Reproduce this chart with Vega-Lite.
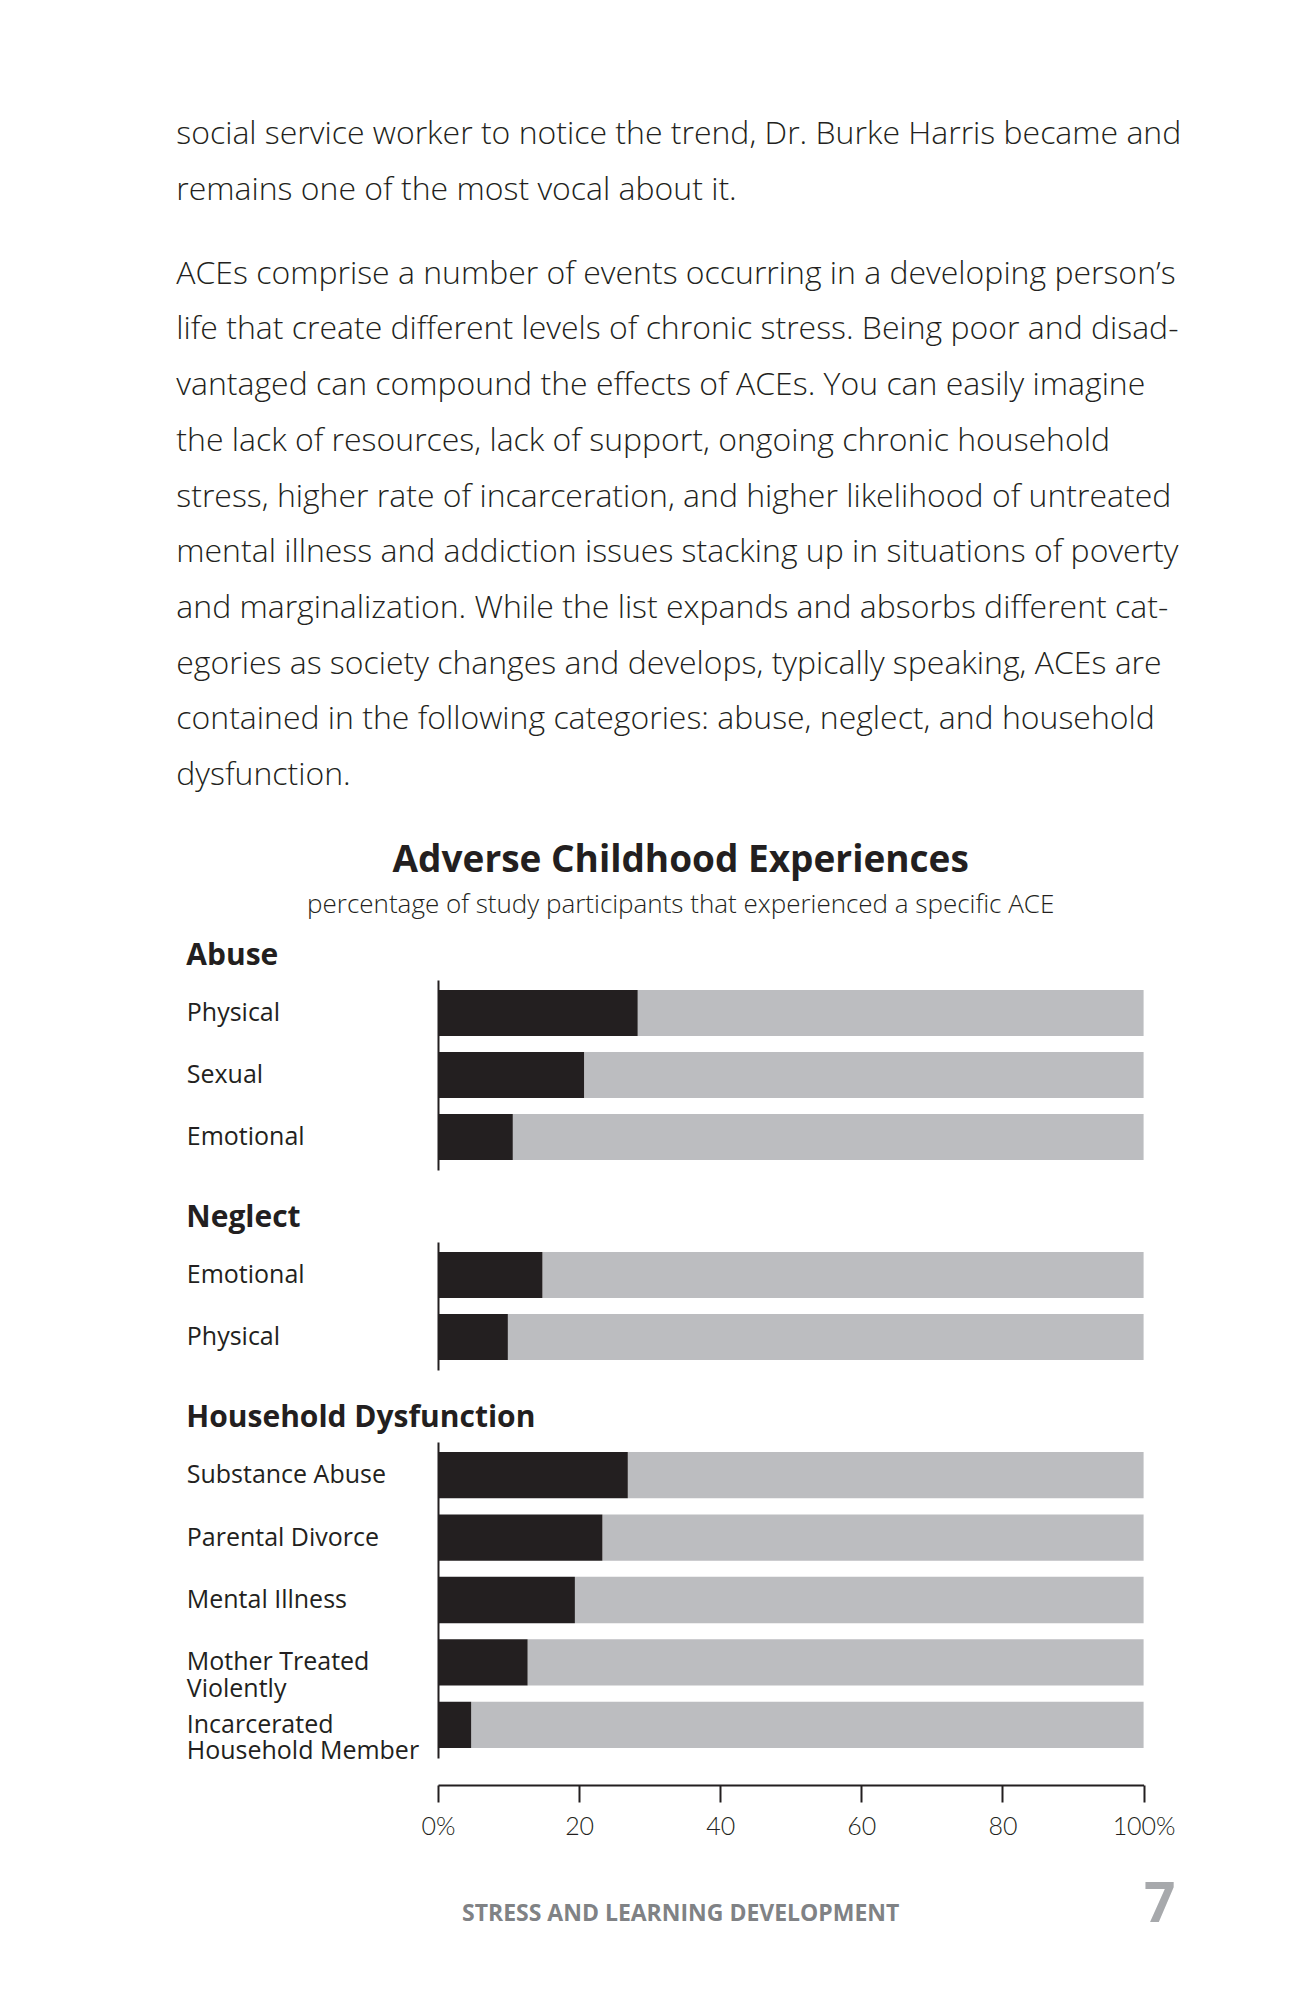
{
  "$schema": "https://vega.github.io/schema/vega-lite/v6.json",
  "background": "white",
  "padding": {"left": 176, "top": 117, "right": 20, "bottom": 20},
  "data": {
    "values": [
      {"group": "Abuse", "item": "Physical", "pct": 28.3},
      {"group": "Abuse", "item": "Sexual", "pct": 20.7},
      {"group": "Abuse", "item": "Emotional", "pct": 10.6},
      {"group": "Neglect", "item": "Emotional", "pct": 14.8},
      {"group": "Neglect", "item": "Physical", "pct": 9.9},
      {"group": "Household Dysfunction", "item": "Substance Abuse", "pct": 26.9},
      {"group": "Household Dysfunction", "item": "Parental Divorce", "pct": 23.3},
      {"group": "Household Dysfunction", "item": "Mental Illness", "pct": 19.4},
      {"group": "Household Dysfunction", "item": "Mother Treated Violently", "pct": 12.7},
      {"group": "Household Dysfunction", "item": "Incarcerated Household Member", "pct": 4.7}
    ]
  },
  "title": {
    "text": [
      "social service worker to notice the trend, Dr. Burke Harris became and",
      "remains one of the most vocal about it."
    ],
    "subtitle": [
      "ACEs comprise a number of events occurring in a developing person’s",
      "life that create different levels of chronic stress. Being poor and disad-",
      "vantaged can compound the effects of ACEs. You can easily imagine",
      "the lack of resources, lack of support, ongoing chronic household",
      "stress, higher rate of incarceration, and higher likelihood of untreated",
      "mental illness and addiction issues stacking up in situations of poverty",
      "and marginalization. While the list expands and absorbs different cat-",
      "egories as society changes and develops, typically speaking, ACEs are",
      "contained in the following categories: abuse, neglect, and household",
      "dysfunction."
    ],
    "anchor": "start",
    "frame": "bounds",
    "dx": -10,
    "font": "Open Sans",
    "fontSize": 32,
    "fontWeight": 300,
    "color": "#231f20",
    "lineHeight": 56,
    "subtitleFont": "Open Sans",
    "subtitleFontSize": 32,
    "subtitleFontWeight": 300,
    "subtitleColor": "#231f20",
    "subtitleLineHeight": 55.7,
    "subtitlePadding": 52,
    "offset": 50
  },
  "vconcat": [
    {
      "title": {
        "text": "STRESS AND LEARNING DEVELOPMENT",
        "orient": "bottom",
        "anchor": "middle",
        "frame": "bounds",
        "font": "Open Sans",
        "fontSize": 23,
        "fontWeight": "bold",
        "color": "#808285",
        "offset": -30
      },
      "vconcat": [
        {
          "title": {
            "text": "Adverse Childhood Experiences",
            "subtitle": "percentage of study participants that experienced a specific ACE",
            "anchor": "middle",
            "frame": "bounds",
            "font": "Open Sans",
            "fontSize": 37,
            "fontWeight": "bold",
            "color": "#231f20",
            "subtitleFont": "Open Sans",
            "subtitleFontSize": 26,
            "subtitleFontWeight": 300,
            "subtitleColor": "#231f20",
            "subtitlePadding": 12,
            "offset": 22
          },
          "bounds": "flush",
          "spacing": 72,
          "vconcat": [
            {
              "title": {"text": "Abuse", "anchor": "start", "frame": "bounds", "font": "Open Sans", "fontSize": 30, "fontWeight": "bold", "color": "#231f20", "offset": 9},
              "width": 705.6,
              "height": 190,
              "transform": [{"filter": "datum.group == 'Abuse'"}],
              "encoding": {
                "y": {
                  "field": "item", "type": "nominal", "sort": null,
                  "scale": {"paddingInner": 0.258, "paddingOuter": 0.161},
                  "axis": {"title": null, "ticks": false, "domain": true, "domainColor": "#231f20", "domainWidth": 2, "labelAlign": "left", "labelPadding": 251.7, "labelBaseline": "alphabetic", "labelOffset": 8, "labelFont": "Open Sans", "labelFontSize": 25, "labelColor": "#231f20", "labelLimit": 400, "labelLineHeight": 26.5}
                }
              },
              "layer": [
                {"mark": {"type": "bar", "color": "#bcbdc0"}, "encoding": {"x": {"field": "pct", "type": "quantitative", "scale": {"domain": [0, 100], "nice": false}, "axis": null}, "x2": {"datum": 100}}},
                {"mark": {"type": "bar", "color": "#231f20"}, "encoding": {"x": {"field": "pct", "type": "quantitative", "stack": null}}}
              ]
            },
            {
              "title": {"text": "Neglect", "anchor": "start", "frame": "bounds", "font": "Open Sans", "fontSize": 30, "fontWeight": "bold", "color": "#231f20", "offset": 9},
              "width": 705.6,
              "height": 128,
              "transform": [{"filter": "datum.group == 'Neglect'"}],
              "encoding": {
                "y": {
                  "field": "item", "type": "nominal", "sort": null,
                  "scale": {"paddingInner": 0.258, "paddingOuter": 0.161},
                  "axis": {"title": null, "ticks": false, "domain": true, "domainColor": "#231f20", "domainWidth": 2, "labelAlign": "left", "labelPadding": 251.7, "labelBaseline": "alphabetic", "labelOffset": 8, "labelFont": "Open Sans", "labelFontSize": 25, "labelColor": "#231f20", "labelLimit": 400, "labelLineHeight": 26.5}
                }
              },
              "layer": [
                {"mark": {"type": "bar", "color": "#bcbdc0"}, "encoding": {"x": {"field": "pct", "type": "quantitative", "scale": {"domain": [0, 100], "nice": false}, "axis": null}, "x2": {"datum": 100}}},
                {"mark": {"type": "bar", "color": "#231f20"}, "encoding": {"x": {"field": "pct", "type": "quantitative", "stack": null}}}
              ]
            },
            {
              "title": {"text": "Household Dysfunction", "anchor": "start", "frame": "bounds", "font": "Open Sans", "fontSize": 30, "fontWeight": "bold", "color": "#231f20", "offset": 9},
              "width": 705.6,
              "height": 316,
              "transform": [{"filter": "datum.group == 'Household Dysfunction'"}],
              "encoding": {
                "y": {
                  "field": "item", "type": "nominal", "sort": null,
                  "scale": {"paddingInner": 0.258, "paddingOuter": 0.161},
                  "axis": {"title": null, "ticks": false, "domain": true, "domainColor": "#231f20", "domainWidth": 2, "labelAlign": "left", "labelPadding": 251.7, "labelBaseline": "alphabetic", "labelOffset": 8, "labelFont": "Open Sans", "labelFontSize": 25, "labelColor": "#231f20", "labelLimit": 400, "labelLineHeight": 26.5,
                    "labelExpr": "datum.label == 'Mother Treated Violently' ? ['Mother Treated', 'Violently'] : datum.label == 'Incarcerated Household Member' ? ['Incarcerated', 'Household Member'] : datum.label"}
                }
              },
              "layer": [
                {"mark": {"type": "bar", "color": "#bcbdc0"}, "encoding": {"x": {"field": "pct", "type": "quantitative", "scale": {"domain": [0, 100], "nice": false},
                  "axis": {"values": [0, 20, 40, 60, 80, 100], "labelExpr": "datum.value == 0 || datum.value == 100 ? datum.value + '%' : datum.label", "offset": 27, "grid": false, "domainColor": "#231f20", "domainWidth": 2, "tickColor": "#231f20", "tickWidth": 2, "tickSize": 17, "labelPadding": 13, "labelFont": "Lato", "labelFontSize": 25, "labelFontWeight": 300, "labelColor": "#231f20", "labelFlush": false, "labelOverlap": false,
                    "title": "7", "titleAnchor": "end", "titleAlign": "left", "titleFont": "Open Sans", "titleFontSize": 55, "titleFontWeight": "bold", "titleColor": "#a7a9ac", "titlePadding": 39}}, "x2": {"datum": 100}}},
                {"mark": {"type": "bar", "color": "#231f20"}, "encoding": {"x": {"field": "pct", "type": "quantitative", "stack": null}}}
              ]
            }
          ]
        }
      ]
    }
  ],
  "config": {
    "view": {"stroke": null},
    "axis": {"grid": false}
  }
}
